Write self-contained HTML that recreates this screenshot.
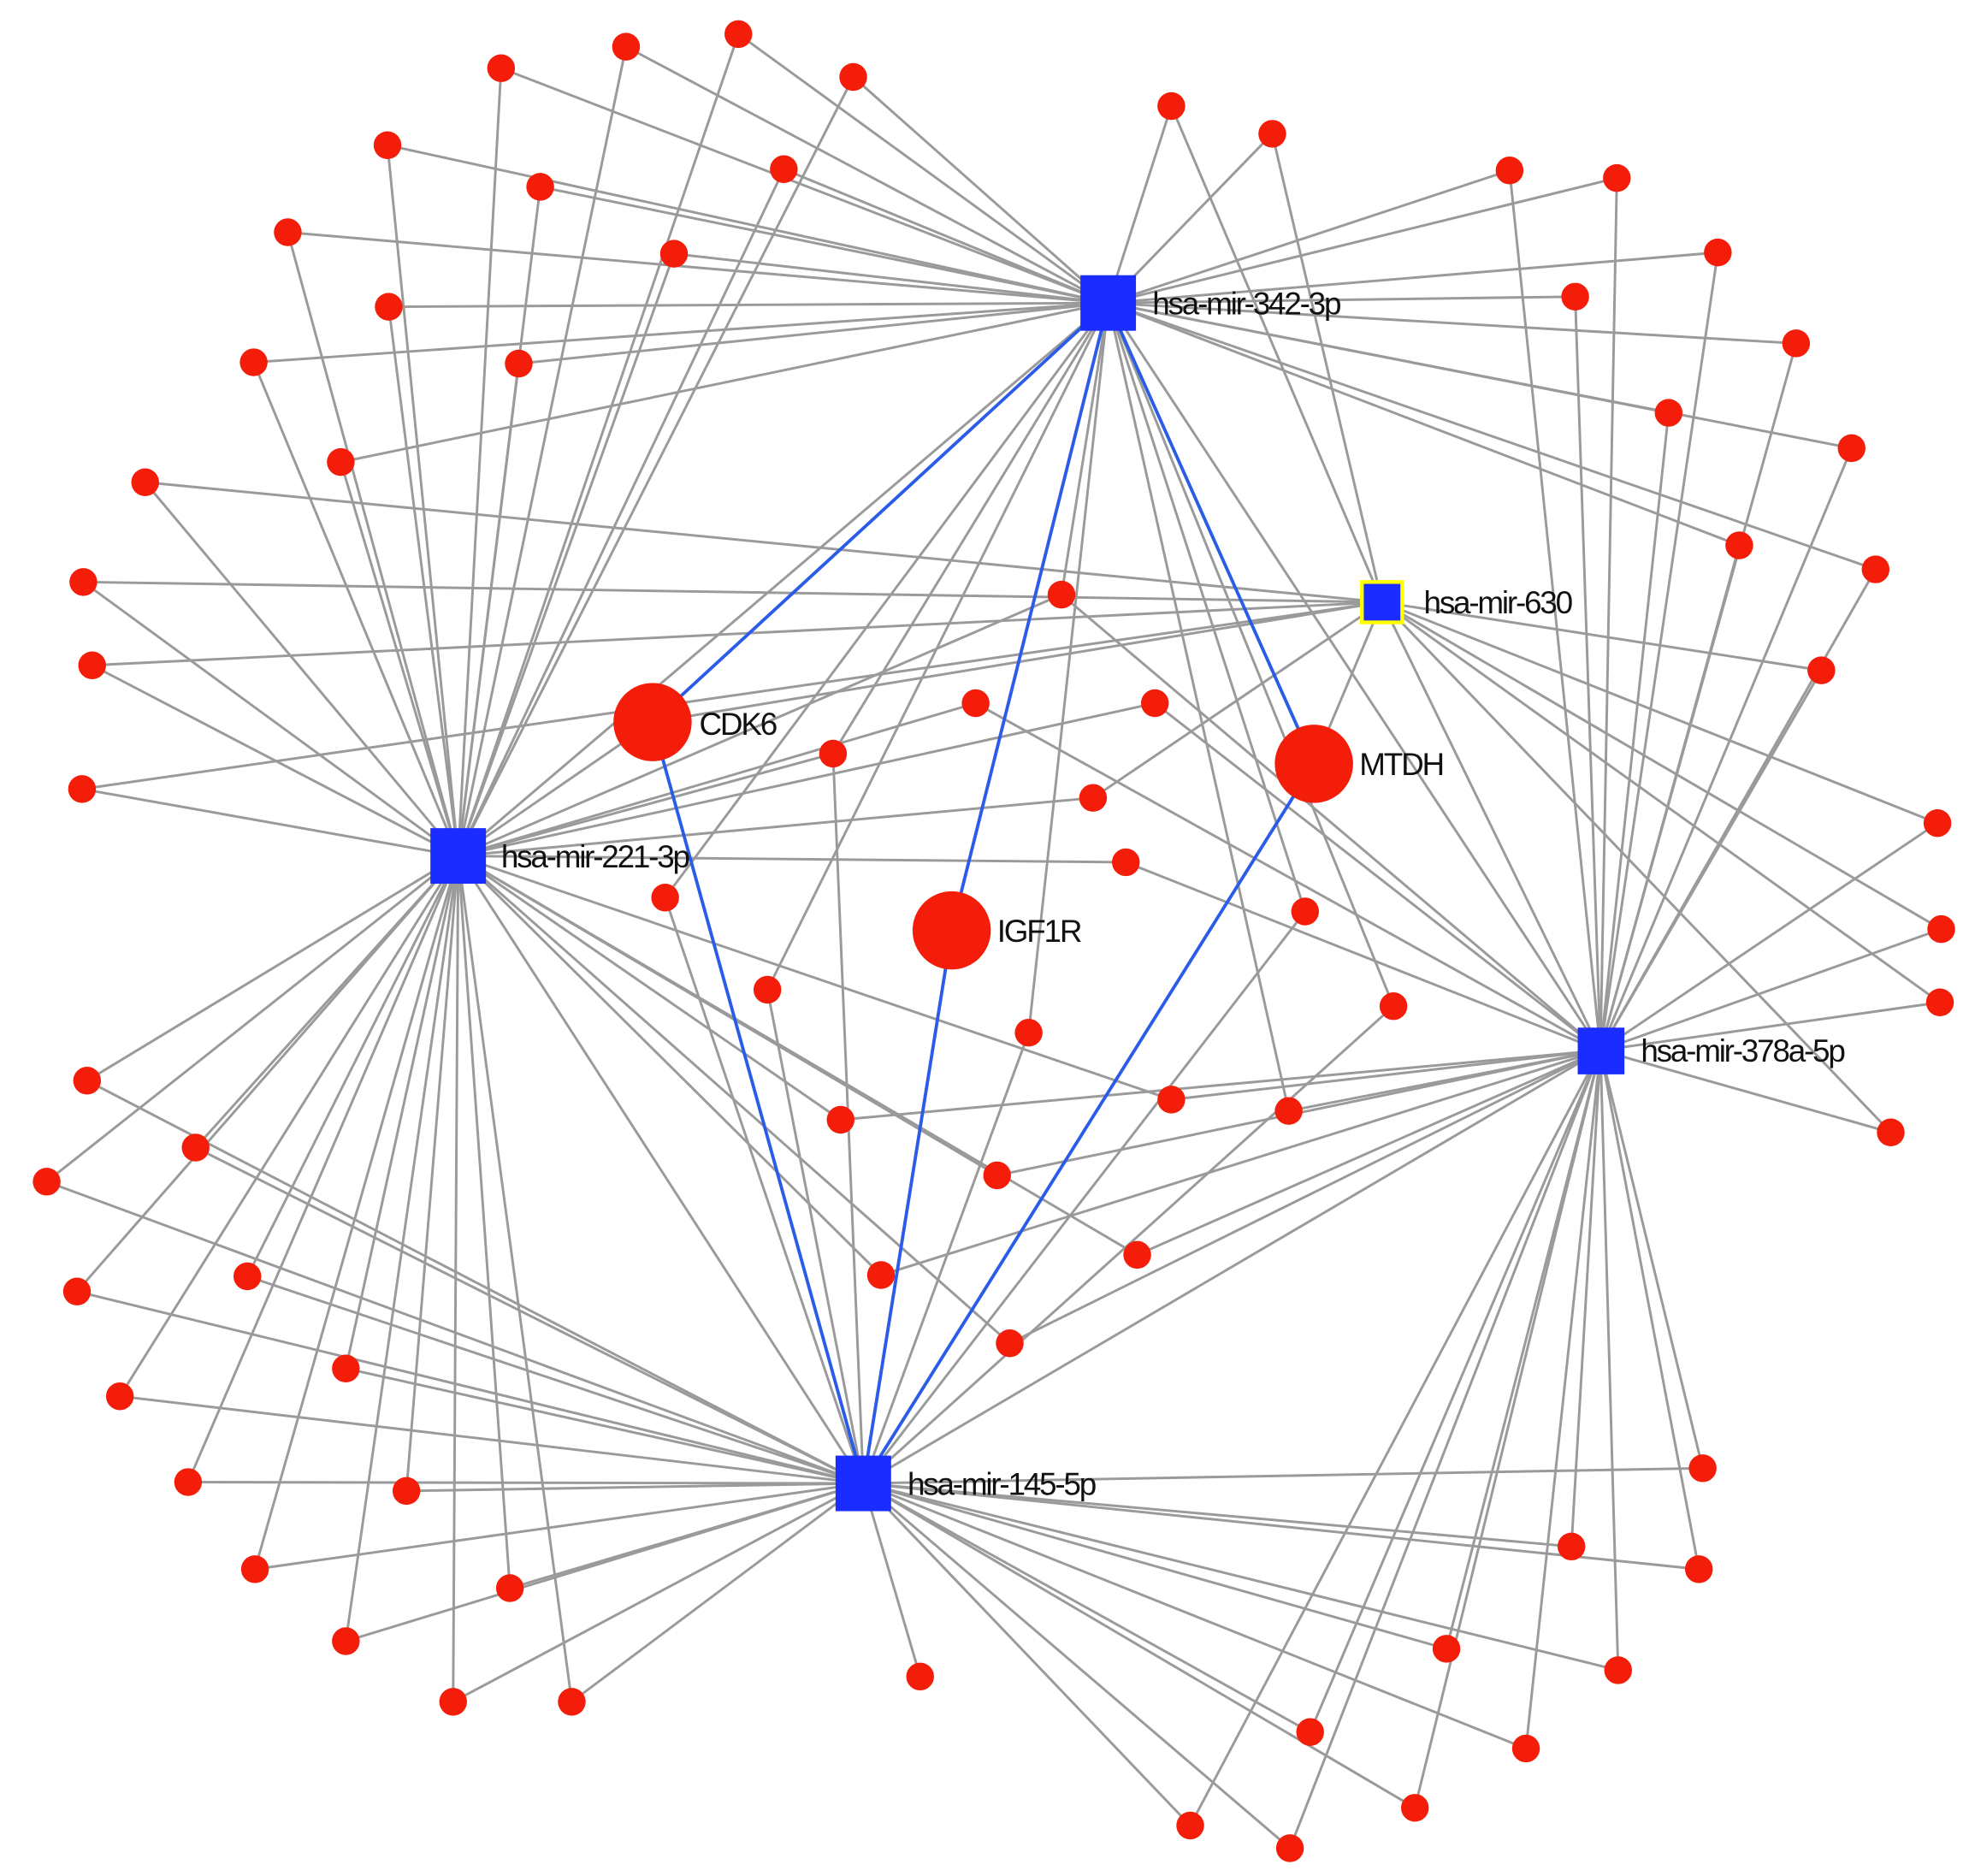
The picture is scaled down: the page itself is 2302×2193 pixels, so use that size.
<!DOCTYPE html>
<html><head><meta charset="utf-8"><style>html,body{margin:0;padding:0;background:#fff}svg{display:block}</style></head>
<body>
<svg width="2302" height="2193" viewBox="0 0 1560 1486" preserveAspectRatio="none" xmlns="http://www.w3.org/2000/svg">
<g id="edges" stroke="#9a9a9a" stroke-width="2" fill="none"></g>
<g stroke="#2a5ce8" stroke-width="2.6">
<line x1="878" y1="240" x2="517" y2="572"/><line x1="878" y1="240" x2="754" y2="737"/><line x1="878" y1="240" x2="1041" y2="605"/>
<line x1="684" y1="1175" x2="517" y2="572"/><line x1="684" y1="1175" x2="754" y2="737"/><line x1="684" y1="1175" x2="1041" y2="605"/>
</g>
<g id="nodes" fill="#f41d0a"></g>
<g fill="#f41d0a"><circle cx="517" cy="572" r="31"/><circle cx="1041" cy="605" r="31"/><circle cx="754" cy="737" r="31"/></g>
<g fill="#1a2cff">
<rect x="856" y="218" width="44" height="44"/><rect x="341" y="656" width="44" height="44"/><rect x="662" y="1153" width="44" height="44"/><rect x="1250" y="814" width="37" height="37"/>
<rect x="1079" y="461" width="32" height="32" stroke="#ffff00" stroke-width="3"/>
</g>
<g font-family="Liberation Sans, sans-serif" font-size="25" fill="#111" letter-spacing="-1.5">
<text x="913" y="249">hsa-mir-342-3p</text>
<text x="397" y="687">hsa-mir-221-3p</text>
<text x="719" y="1184">hsa-mir-145-5p</text>
<text x="1300" y="841">hsa-mir-378a-5p</text>
<text x="1128" y="486">hsa-mir-630</text>
<text x="554" y="582">CDK6</text>
<text x="1077" y="614">MTDH</text>
<text x="790" y="746">IGF1R</text>
</g>
<script>
var H={A:[878,240],B:[363,678],C:[684,1175],D:[1268,832],E:[1095,477]};
var N=[[397,54,"AB"],[496,37,"AB"],[585,27,"AB"],[676,61,"AB"],[307,115,"AB"],[428,148,"AB"],[621,134,"AB"],[228,184,"AB"],[534,201,"AB"],[308,243,"AB"],[201,287,"AB"],[411,288,"AB"],[270,366,"AB"],
[115,382,"BE"],[66,461,"BE"],[73,527,"BE"],[65,625,"BE"],
[928,84,"AE"],[1008,106,"AE"],[1196,135,"AD"],[1281,141,"AD"],[1361,200,"AD"],[1248,235,"AD"],[1423,272,"AD"],[1322,327,"AD"],[1467,355,"AD"],[1378,432,"AD"],[1486,451,"AD"],
[1443,531,"ED"],[1535,652,"ED"],[1538,736,"ED"],[1537,794,"ED"],[1498,897,"ED"],
[841,471,"ADB"],[773,557,"BD"],[915,557,"BD"],[660,597,"ABC"],[866,632,"BE"],[892,683,"BD"],[527,711,"CA"],[1034,722,"AC"],[608,784,"CA"],[815,818,"CA"],[1104,797,"AC"],[928,871,"BD"],[1021,880,"DA"],[666,887,"DB"],[790,931,"BD"],[698,1010,"DB"],[901,994,"BD"],[800,1064,"BD"],
[69,856,"BC"],[155,909,"BC"],[37,936,"BC"],[61,1023,"BC"],[196,1011,"BC"],[95,1106,"BC"],[274,1084,"BC"],[149,1174,"BC"],[322,1181,"BC"],[202,1243,"BC"],[404,1258,"BC"],[274,1300,"BC"],[359,1348,"BC"],[453,1348,"BC"],
[729,1328,"C"],[1349,1163,"CD"],[1245,1225,"CD"],[1346,1243,"CD"],[1146,1306,"CD"],[1282,1323,"CD"],[1038,1372,"CD"],[1209,1385,"CD"],[1121,1432,"CD"],[943,1446,"CD"],[1022,1464,"CD"]];
var ns="http://www.w3.org/2000/svg",eg=document.getElementById("edges"),ng=document.getElementById("nodes");
function ln(a,b,c,d){var l=document.createElementNS(ns,"line");l.setAttribute("x1",a);l.setAttribute("y1",b);l.setAttribute("x2",c);l.setAttribute("y2",d);eg.appendChild(l);}
N.forEach(function(n){n[2].split("").forEach(function(k){ln(n[0],n[1],H[k][0],H[k][1]);});var c=document.createElementNS(ns,"circle");c.setAttribute("cx",n[0]);c.setAttribute("cy",n[1]);c.setAttribute("r",11);ng.appendChild(c);});
ln(517,572,1095,477);ln(1041,605,1095,477);ln(517,572,363,678);ln(363,678,878,240);ln(363,678,684,1175);ln(1268,832,684,1175);ln(1268,832,878,240);ln(1095,477,1268,832);
</script>
</svg>
</body></html>
